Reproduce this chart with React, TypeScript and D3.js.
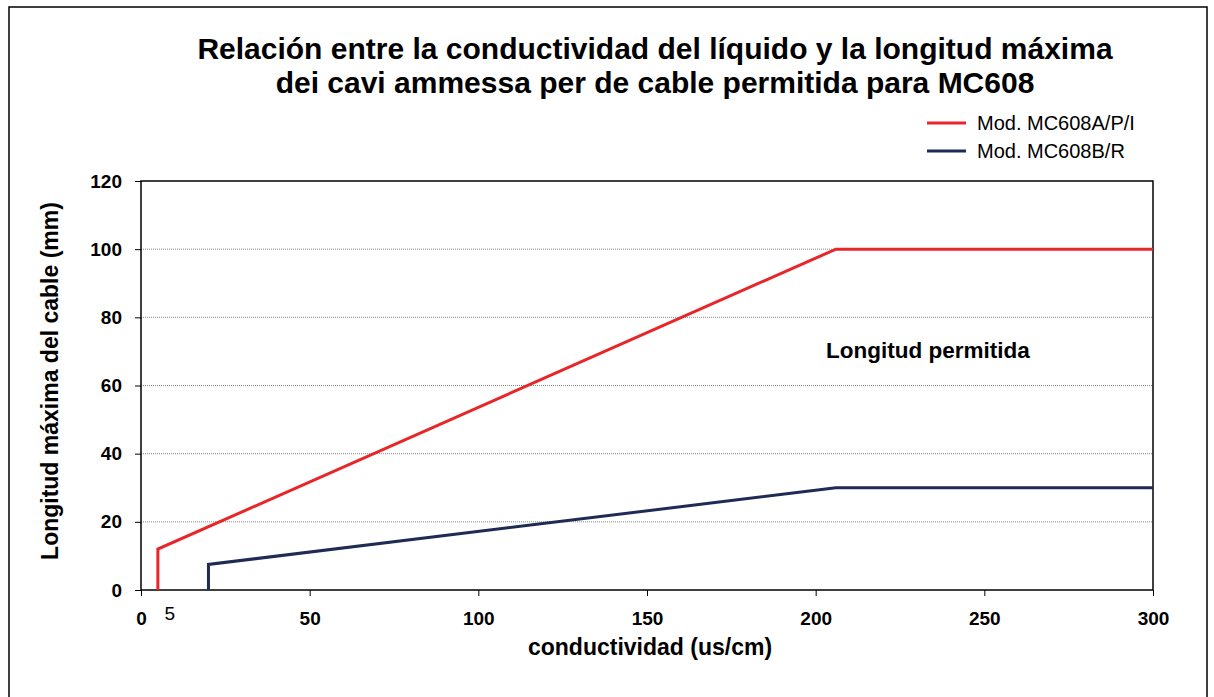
import React, { useEffect, useRef } from "react";
import * as d3 from "d3";

// data
const redX = [5, 5, 206, 300];
const redY = [0, 12, 100, 100];
const blueX = [20, 20, 206, 300];
const blueY = [0, 7.5, 30, 30];
const xTicks = [0, 50, 100, 150, 200, 250, 300];
const yTicks = [0, 20, 40, 60, 80, 100, 120];
const seriesNames = ["Mod. MC608A/P/I", "Mod. MC608B/R"];
const seriesColors = ["#e8262a", "#1f2a55"];

const App = () => {
  const ref = useRef<SVGSVGElement>(null);

  useEffect(() => {
    const width = 1214;
    const height = 697;
    const font = "'Liberation Sans', Arial, Helvetica, sans-serif";
    const svg = d3.select(ref.current!);
    svg.selectAll("*").remove();
    svg.attr("width", width).attr("height", height).style("font-family", font);

    // outer frame
    svg.append("rect").attr("x", 9).attr("y", 7).attr("width", 1198).attr("height", 700)
      .attr("fill", "none").attr("stroke", "#000").attr("stroke-width", 1.5);

    const left = 141, right = 1153, top = 181, bottom = 590;
    const x = d3.scaleLinear().domain([0, 300]).range([left, right]);
    const y = d3.scaleLinear().domain([0, 120]).range([bottom, top]);

    // title
    const title = svg.append("text").attr("text-anchor", "middle")
      .attr("font-weight", "bold").attr("font-size", 30);
    title.append("tspan").attr("x", 655).attr("y", 59)
      .text("Relación entre la conductividad del líquido y la longitud máxima");
    title.append("tspan").attr("x", 655).attr("y", 93)
      .text("dei cavi ammessa per de cable permitida para MC608");

    // legend
    seriesNames.forEach((name, i) => {
      const ly = 123 + i * 28;
      svg.append("line").attr("x1", 927).attr("x2", 966).attr("y1", ly).attr("y2", ly)
        .attr("stroke", seriesColors[i]).attr("stroke-width", 3);
      svg.append("text").attr("x", 977).attr("y", ly + 7).attr("font-size", 20).text(name);
    });

    // grid
    svg.append("g").selectAll("line").data(yTicks.filter(t => t > 0 && t < 120)).join("line")
      .attr("x1", left).attr("x2", right).attr("y1", d => y(d)).attr("y2", d => y(d))
      .attr("stroke", "#888").attr("stroke-width", 1).attr("stroke-dasharray", "1,1");

    // plot border
    svg.append("rect").attr("x", left).attr("y", top).attr("width", right - left).attr("height", bottom - top)
      .attr("fill", "none").attr("stroke", "#000").attr("stroke-width", 1.5);

    // y axis
    const ya = svg.append("g").attr("transform", `translate(${left},0)`)
      .call(d3.axisLeft(y).tickValues(yTicks).tickSize(6).tickFormat(d3.format("d")));
    ya.select(".domain").remove();
    ya.selectAll("text").attr("font-size", 19).attr("font-weight", "bold")
      .attr("font-family", font).attr("x", -19).attr("fill", "#000");

    // x axis
    const xa = svg.append("g").attr("transform", `translate(0,${bottom})`)
      .call(d3.axisBottom(x).tickValues(xTicks).tickSize(6).tickFormat(d3.format("d")));
    xa.select(".domain").remove();
    xa.selectAll("text").attr("font-size", 19).attr("font-weight", "bold")
      .attr("font-family", font).attr("dy", null).attr("y", 35).attr("fill", "#000");

    svg.append("text").attr("x", x(5) + 12).attr("y", 620).attr("text-anchor", "middle")
      .attr("font-size", 19).text("5");

    // axis titles
    svg.append("text").attr("x", 650).attr("y", 655).attr("text-anchor", "middle")
      .attr("font-weight", "bold").attr("font-size", 23).text("conductividad (us/cm)");
    svg.append("text").attr("transform", `translate(58,381) rotate(-90)`)
      .attr("text-anchor", "middle").attr("font-weight", "bold").attr("font-size", 23)
      .text("Longitud máxima del cable (mm)");

    // lines
    const line = d3.line<[number, number]>().x(d => x(d[0])).y(d => y(d[1]));
    const series = [
      redX.map((v, i) => [v, redY[i]] as [number, number]),
      blueX.map((v, i) => [v, blueY[i]] as [number, number]),
    ];
    series.forEach((pts, i) => {
      svg.append("path").attr("d", line(pts)!).attr("fill", "none")
        .attr("stroke", seriesColors[i]).attr("stroke-width", 3);
    });

    svg.append("text").attr("x", 826).attr("y", 358).attr("font-weight", "bold")
      .attr("font-size", 22.5).text("Longitud permitida");
  }, []);

  return <svg ref={ref} style={{ position: "absolute", left: 0, top: 0 }}></svg>;
};

export default App;
